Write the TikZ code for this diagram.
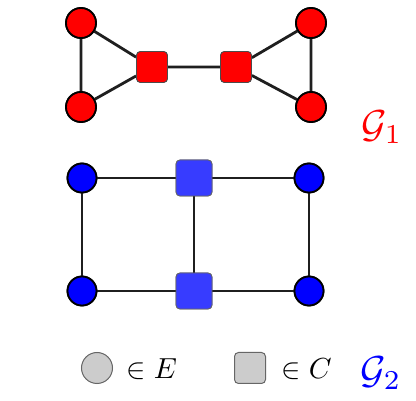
\documentclass[tikz,border=0pt]{standalone}
\usepackage{amssymb}
\begin{document}
\begin{tikzpicture}[x=1pt,y=-1pt,
  edge/.style={line width=2.8pt,draw=black!88},
  rcirc/.style={circle,fill=red,draw=black,line width=1.8pt,minimum size=30pt,inner sep=0pt},
  rsq/.style={rectangle,rounded corners=4pt,fill=red,draw=black!70,line width=0.8pt,minimum size=31pt,inner sep=0pt},
  bcirc/.style={circle,fill=blue,draw=black,line width=1.8pt,minimum size=29pt,inner sep=0pt},
  bsq/.style={rectangle,rounded corners=4pt,fill={rgb,255:red,55;green,60;blue,255},draw=black!60,line width=0.8pt,minimum size=36pt,inner sep=0pt},
  gcirc/.style={circle,fill=black!20,draw=black!60,line width=1pt,minimum size=31pt,inner sep=0pt},
  gsq/.style={rectangle,rounded corners=4pt,fill=black!20,draw=black!60,line width=1pt,minimum size=31pt,inner sep=0pt},
  lbl/.style={inner sep=0pt,scale=2.9},
  glbl/.style={inner sep=0pt,scale=3.9}]
\useasboundingbox (0,0) rectangle (416,401);
\fill[white] (0,0) rectangle (416,401);
% first graph: two triangles joined by a bridge
\node[rcirc] (a1) at (81,23) {};
\node[rcirc] (a2) at (81,107) {};
\node[rsq]   (a3) at (152,67) {};
\node[rsq]   (a4) at (236,67) {};
\node[rcirc] (a5) at (311,23) {};
\node[rcirc] (a6) at (311,107) {};
% second graph: ladder of two squares
\node[bcirc] (b1) at (82,178) {};
\node[bcirc] (b2) at (82,291) {};
\node[bsq]   (b3) at (194,178) {};
\node[bsq]   (b4) at (194,291) {};
\node[bcirc] (b5) at (309,178) {};
\node[bcirc] (b6) at (309,291) {};
% edges
\draw[edge] (a1) -- (a2) (a1) -- (a3) (a2) -- (a3) (a3) -- (a4)
            (a4) -- (a5) (a4) -- (a6) (a5) -- (a6);
\draw[edge] (b1) -- (b3) (b3) -- (b5) (b1) -- (b2) (b5) -- (b6)
            (b2) -- (b4) (b4) -- (b6) (b3) -- (b4);
% redraw nodes on top of edges
\foreach \n/\s in {a1/rcirc,a2/rcirc,a5/rcirc,a6/rcirc,a3/rsq,a4/rsq}
  \node[\s] at (\n) {};
\foreach \n/\s in {b1/bcirc,b2/bcirc,b5/bcirc,b6/bcirc,b3/bsq,b4/bsq}
  \node[\s] at (\n) {};
% graph names
\node[glbl,text=red] (g1) at (382,127) {$\mathcal{G}_1$};
\node[glbl,text=blue] (g2) at (381,373) {$\mathcal{G}_2$};
% legend
\node[gcirc] (le) at (97,368) {};
\node[lbl,anchor=west] (te) at (126,369) {$\in E$};
\node[gsq] (lc) at (250,368) {};
\node[lbl,anchor=west] (tc) at (281,369) {$\in C$};
\end{tikzpicture}
\end{document}
